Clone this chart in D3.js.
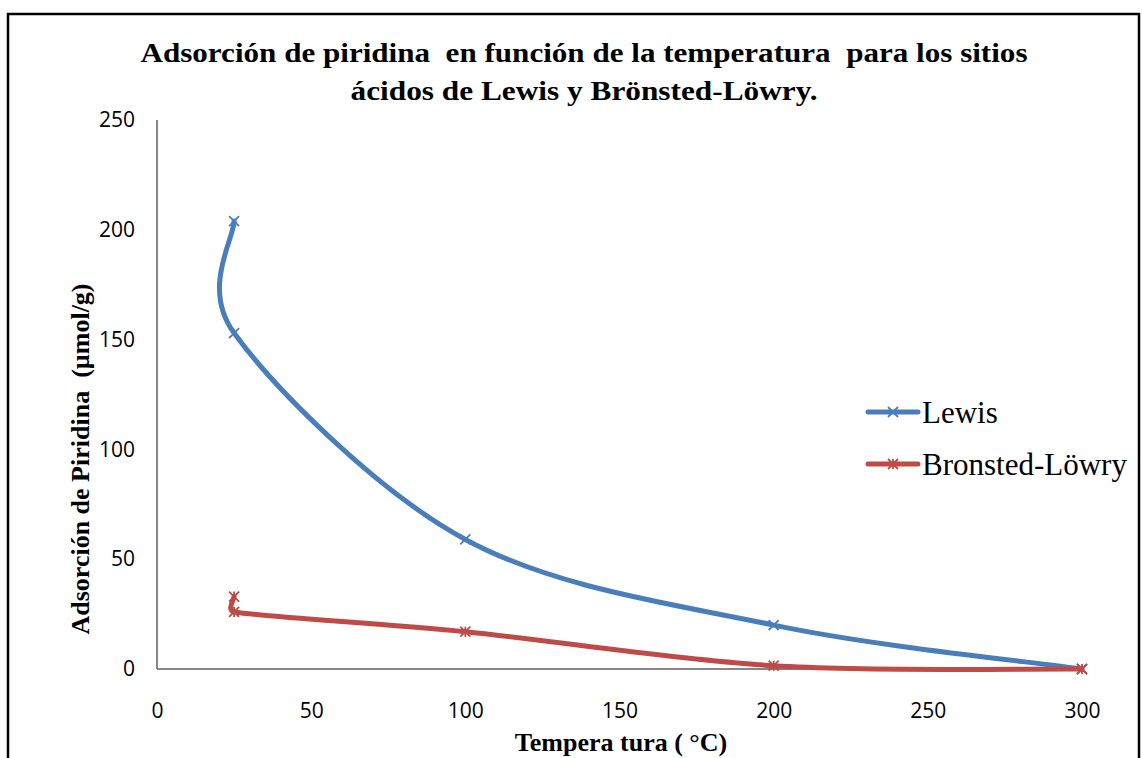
<!DOCTYPE html>
<html>
<head>
<meta charset="utf-8">
<script src="https://cdn.jsdelivr.net/npm/d3@7"></script>
<style>
  html, body { margin: 0; padding: 0; background: #fff; }
  svg { display: block; }
</style>
</head>
<body>
<script>
// Pyridine adsorption (µmol/g) versus temperature (°C)
const temperatures = [25, 25, 100, 200, 300];
const lewisValues = [204, 153, 59, 20, 0];
const bronstedValues = [33, 26, 17, 1.5, 0];
const xTicks = [0, 50, 100, 150, 200, 250, 300];
const yTicks = [0, 50, 100, 150, 200, 250];
const seriesNames = ["Lewis", "Bronsted-Löwry"];
const seriesColors = ["#4A7EBB", "#BE4B48"];
const titleLines = [
  "Adsorción de piridina  en función de la temperatura  para los sitios",
  "ácidos de Lewis y Brönsted-Löwry."
];
const yTitle = "Adsorción de Piridina  (µmol/g)";
const xTitle = "Tempera tura ( °C)";

const W = 1142, H = 758;
const plot = { left: 157, right: 1082, top: 120, bottom: 669 };
const serif = "'Liberation Serif', 'Times New Roman', serif";

const svg = d3.select("body").append("svg")
  .attr("width", W).attr("height", H);

// outer frame
svg.append("rect")
  .attr("x", 8).attr("y", 14)
  .attr("width", 1131).attr("height", 760)
  .attr("fill", "none").attr("stroke", "#000").attr("stroke-width", 2.5);

const x = d3.scaleLinear().domain([0, 300]).range([plot.left, plot.right]);
const y = d3.scaleLinear().domain([0, 250]).range([plot.bottom, plot.top]);

// title (two centred lines, slightly widened)
const titleWidths = [887, 467];
svg.append("g").selectAll("text").data(titleLines).join("text")
  .attr("x", 584)
  .attr("y", (d, i) => 62 + i * 38)
  .attr("text-anchor", "middle")
  .attr("font-family", serif)
  .attr("font-weight", "bold")
  .attr("font-size", 27)
  .attr("textLength", (d, i) => titleWidths[i])
  .attr("lengthAdjust", "spacingAndGlyphs")
  .style("white-space", "pre")
  .text(d => d);

// axes
const tickFont = "'Open Sans', 'Noto Sans', sans-serif";
const yAxis = svg.append("g")
  .attr("transform", `translate(${plot.left},0)`)
  .call(d3.axisLeft(y).tickValues(yTicks).tickSize(0).tickPadding(22).tickFormat(d3.format("d")));
const xAxis = svg.append("g")
  .attr("transform", `translate(0,${plot.bottom})`)
  .call(d3.axisBottom(x).tickValues(xTicks).tickSize(0).tickPadding(34).tickFormat(d3.format("d")));

[xAxis, yAxis].forEach(g => {
  g.select(".domain").attr("stroke", "#868686").attr("stroke-width", 2);
  g.selectAll("text")
    .attr("font-family", tickFont)
    .attr("font-size", 21)
    .attr("fill", "#000");
});
yAxis.select(".domain").attr("d", `M0,${plot.bottom}V${plot.top}`);
xAxis.select(".domain").attr("d", `M${plot.left},0H${plot.right}`);

// axis titles
svg.append("text")
  .attr("transform", `translate(89,459) rotate(-90)`)
  .attr("text-anchor", "middle")
  .attr("font-family", serif)
  .attr("font-weight", "bold")
  .attr("font-size", 26)
  .style("white-space", "pre")
  .text(yTitle);

svg.append("text")
  .attr("x", 621).attr("y", 751)
  .attr("text-anchor", "middle")
  .attr("font-family", serif)
  .attr("font-weight", "bold")
  .attr("font-size", 26)
  .text(xTitle);

// series
const series = [
  { name: seriesNames[0], color: seriesColors[0], values: lewisValues, marker: "x" },
  { name: seriesNames[1], color: seriesColors[1], values: bronstedValues, marker: "star" }
];

// smoothed line: Catmull-Rom style Bezier segments (tangent/6), with each
// control arm capped at half the length of the segment it belongs to
function smoothPath(pts) {
  const n = pts.length;
  const P = i => pts[Math.max(0, Math.min(n - 1, i))];
  const dist = (a, b) => Math.hypot(b[0] - a[0], b[1] - a[1]);
  const arm = (prev, cur, next, segLen) => {
    const tx = next[0] - prev[0], ty = next[1] - prev[1];
    const tl = Math.hypot(tx, ty);
    if (tl === 0) return [0, 0];
    const len = Math.min(tl / 6, segLen / 2);
    return [tx / tl * len, ty / tl * len];
  };
  let d = `M${pts[0][0]},${pts[0][1]}`;
  for (let i = 0; i < n - 1; i++) {
    const p0 = P(i - 1), p1 = P(i), p2 = P(i + 1), p3 = P(i + 2);
    const seg = dist(p1, p2);
    const a1 = arm(p0, p1, p2, seg);
    const a2 = arm(p1, p2, p3, seg);
    const c1 = [p1[0] + a1[0], p1[1] + a1[1]];
    const c2 = [p2[0] - a2[0], p2[1] - a2[1]];
    d += `C${c1[0]},${c1[1]} ${c2[0]},${c2[1]} ${p2[0]},${p2[1]}`;
  }
  return d;
}

function markerPath(type, s) {
  if (type === "x") return `M${-s},${-s}L${s},${s}M${-s},${s}L${s},${-s}`;
  return `M${-s},${-s}L${s},${s}M${-s},${s}L${s},${-s}M0,${-s}L0,${s}`;
}

series.forEach(sr => {
  const pts = temperatures.map((t, i) => [t, sr.values[i]]);
  const px = pts.map(p => [x(p[0]), y(p[1])]);
  svg.append("path")
    .attr("d", smoothPath(px))
    .attr("fill", "none")
    .attr("stroke", sr.color)
    .attr("stroke-width", 5)
    .attr("stroke-linecap", "round")
    .attr("stroke-linejoin", "round");
  svg.append("g").selectAll("path").data(pts).join("path")
    .attr("transform", d => `translate(${x(d[0])},${y(d[1])})`)
    .attr("d", markerPath(sr.marker, 5))
    .attr("fill", "none")
    .attr("stroke", sr.color)
    .attr("stroke-width", 1.8);
});

// legend
const legend = svg.append("g");
const legendRows = legend.selectAll("g").data(series).join("g")
  .attr("transform", (d, i) => `translate(868,${412 + i * 52})`);
legendRows.append("line")
  .attr("x1", 0).attr("x2", 50)
  .attr("stroke", d => d.color)
  .attr("stroke-width", 5)
  .attr("stroke-linecap", "round");
legendRows.append("path")
  .attr("transform", "translate(25,0)")
  .attr("d", d => markerPath(d.marker, 5))
  .attr("fill", "none")
  .attr("stroke", d => d.color)
  .attr("stroke-width", 1.8);
legendRows.append("text")
  .attr("x", 54).attr("y", 0).attr("dy", "0.35em")
  .attr("font-family", serif)
  .attr("font-size", 31)
  .attr("fill", "#000")
  .text(d => d.name);
</script>
</body>
</html>
